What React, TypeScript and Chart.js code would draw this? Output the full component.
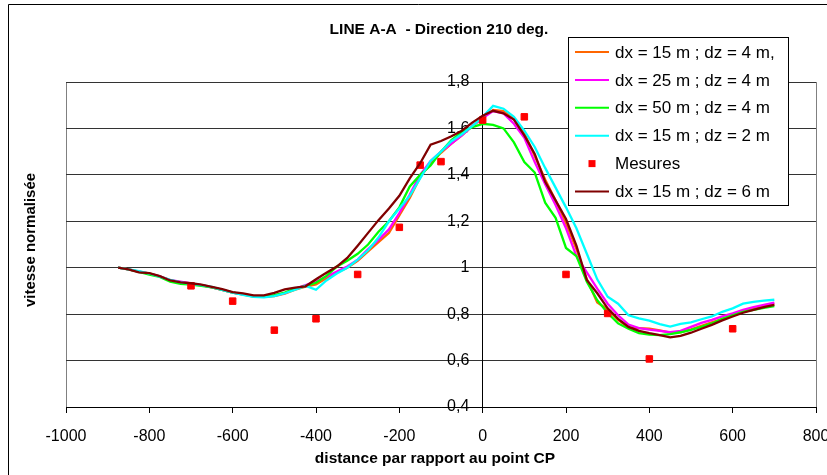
import React, { useEffect, useRef } from 'react';
import { Chart, registerables } from 'chart.js';

Chart.register(...registerables);

const FONT = '"Liberation Sans", Arial, Helvetica, sans-serif';

const chartTitle = 'LINE A-A  - Direction 210 deg.';
const xAxisTitle = 'distance par rapport au point CP';
const yAxisTitle = 'vitesse normalisée';

const distances = [
  -875, -850, -825, -800, -775, -750, -725, -700, -675, -650, -625, -600, -575, -550, -525, -500,
  -475, -450, -425, -400, -375, -350, -325, -300, -275, -250, -225, -200, -175, -150, -125, -100,
  -75, -50, -25, 0, 25, 50, 75, 100, 125, 150, 175, 200, 225, 250, 275, 300, 325, 350, 375, 400,
  425, 450, 475, 500, 525, 550, 575, 600, 625, 650, 675, 700,
];

const dx15dz4 = [
  1.0, 0.993, 0.983, 0.976, 0.963, 0.947, 0.938, 0.932, 0.925, 0.915, 0.905, 0.893, 0.884, 0.876, 0.874, 0.878,
  0.888, 0.905, 0.918, 0.928, 0.955, 0.98, 1.0, 1.03, 1.07, 1.11, 1.15, 1.225, 1.3, 1.39, 1.45, 1.495,
  1.535, 1.57, 1.61, 1.645, 1.68, 1.675, 1.64, 1.58, 1.48, 1.38, 1.29, 1.19, 1.08, 0.95, 0.85, 0.82,
  0.775, 0.742, 0.74, 0.738, 0.73, 0.72, 0.722, 0.735, 0.75, 0.765, 0.78, 0.795, 0.81, 0.825, 0.835, 0.845,
];

const dx25dz4 = [
  1.0, 0.993, 0.983, 0.975, 0.963, 0.947, 0.94, 0.933, 0.925, 0.915, 0.905, 0.893, 0.885, 0.878, 0.875, 0.88,
  0.89, 0.91, 0.925, 0.94, 0.962, 0.983, 1.005, 1.035, 1.08, 1.12, 1.165, 1.235, 1.315, 1.4, 1.46, 1.5,
  1.535, 1.57, 1.61, 1.645, 1.675, 1.665, 1.62, 1.56, 1.455, 1.36, 1.27, 1.17, 1.05, 0.98, 0.91, 0.845,
  0.795, 0.755, 0.74, 0.733, 0.728, 0.722, 0.728, 0.745, 0.762, 0.775, 0.79, 0.803, 0.818, 0.83, 0.84, 0.85,
];

const dx50dz4 = [
  1.0, 0.993, 0.982, 0.97, 0.96, 0.94, 0.93, 0.927, 0.922, 0.915, 0.905, 0.893, 0.886, 0.879, 0.877, 0.882,
  0.893, 0.91, 0.922, 0.935, 0.965, 1.005, 1.03, 1.06, 1.1, 1.155, 1.2, 1.26, 1.35, 1.4, 1.44, 1.5,
  1.55, 1.585, 1.605, 1.62, 1.615, 1.6, 1.54, 1.455, 1.41, 1.28, 1.215, 1.085, 1.05, 0.94, 0.86, 0.805,
  0.76, 0.737, 0.718, 0.712, 0.71, 0.714, 0.722, 0.732, 0.745, 0.76, 0.78, 0.795, 0.81, 0.818, 0.827, 0.835,
];

const dx15dz2 = [
  1.0, 0.993, 0.985, 0.975, 0.962, 0.948, 0.937, 0.93, 0.925, 0.917, 0.905, 0.893, 0.883, 0.874, 0.872, 0.878,
  0.89, 0.905, 0.922, 0.905, 0.945, 0.975, 1.0, 1.035, 1.075, 1.13, 1.2, 1.255, 1.31, 1.385, 1.46, 1.5,
  1.545, 1.575, 1.61, 1.65, 1.697, 1.685, 1.65, 1.59, 1.52, 1.43, 1.345, 1.26, 1.17, 1.06, 0.95, 0.875,
  0.845, 0.795, 0.782, 0.772, 0.757, 0.746, 0.758, 0.765, 0.778, 0.79, 0.81, 0.825, 0.845, 0.853, 0.858, 0.862,
];

const dx15dz6 = [
  1.0, 0.993, 0.98, 0.977, 0.964, 0.945, 0.937, 0.933, 0.927, 0.917, 0.908, 0.895, 0.889, 0.881, 0.881, 0.892,
  0.907, 0.914, 0.92, 0.95, 0.978, 1.005, 1.042, 1.095, 1.15, 1.205, 1.255, 1.31, 1.385, 1.45, 1.53, 1.546,
  1.566, 1.59, 1.625, 1.655, 1.676, 1.665, 1.638, 1.57, 1.49, 1.37, 1.29, 1.21, 1.095, 0.947, 0.89, 0.825,
  0.78, 0.745, 0.728, 0.718, 0.71, 0.7, 0.706, 0.72, 0.737, 0.754, 0.773, 0.79, 0.806, 0.818, 0.83, 0.84,
];

const mesuresX = [-700, -600, -500, -400, -300, -200, -150, -100, 0, 100, 200, 300, 400, 600];
const mesuresY = [0.922, 0.856, 0.731, 0.78, 0.971, 1.174, 1.442, 1.457, 1.636, 1.65, 0.971, 0.803, 0.607, 0.737];

const seriesLabels = [
  'dx = 15 m ; dz = 4 m,',
  'dx = 25 m ; dz = 4 m',
  'dx = 50 m ; dz = 4 m',
  'dx = 15 m ; dz = 2 m',
  'Mesures',
  'dx = 15 m ; dz = 6 m',
];
const seriesColors = ['#FF6600', '#FF00FF', '#00FF00', '#00FFFF', '#FF0000', '#800000'];

const fmt = (v: number) => String(Math.round(v * 10) / 10).replace('.', ',');

const decorPlugin = {
  id: 'decor',
  beforeDraw(chart: any) {
    const { ctx, chartArea: a } = chart;
    ctx.save();
    ctx.strokeStyle = '#808080';
    ctx.lineWidth = 1;
    ctx.strokeRect(Math.round(a.left) + 0.5, Math.round(a.top) + 0.5, Math.round(a.right - a.left), Math.round(a.bottom - a.top));
    ctx.restore();
  },
  afterDraw(chart: any) {
    const { ctx } = chart;
    ctx.save();
    ctx.strokeStyle = '#000';
    ctx.lineWidth = 1;
    ctx.beginPath();
    ctx.moveTo(8.5, 480);
    ctx.lineTo(8.5, 4.5);
    ctx.lineTo(830, 4.5);
    ctx.stroke();

    ctx.fillStyle = '#000';
    ctx.textAlign = 'center';
    ctx.textBaseline = 'middle';
    ctx.font = `bold 15.5px ${FONT}`;
    ctx.fillText(chartTitle, 439, 30);
    ctx.fillText(xAxisTitle, 435, 459);
    ctx.save();
    ctx.translate(31, 240);
    ctx.rotate(-Math.PI / 2);
    ctx.font = `bold 15px ${FONT}`;
    ctx.fillText(yAxisTitle, 0, 0);
    ctx.restore();

    const lx = 568, ly = 37, lw = 220, lh = 168;
    ctx.fillStyle = '#fff';
    ctx.fillRect(lx, ly, lw, lh);
    ctx.strokeStyle = '#000';
    ctx.strokeRect(lx + 0.5, ly + 0.5, lw, lh);
    ctx.font = `17px ${FONT}`;
    ctx.textAlign = 'left';
    chart.data.datasets.forEach((ds: any, i: number) => {
      const y = 52 + i * 27.9;
      if (ds.showLine === false) {
        ctx.fillStyle = ds.backgroundColor;
        ctx.fillRect(588.5, y - 3.5, 7, 7);
      } else {
        ctx.strokeStyle = ds.borderColor;
        ctx.lineWidth = 2;
        ctx.beginPath();
        ctx.moveTo(575, y);
        ctx.lineTo(609, y);
        ctx.stroke();
      }
      ctx.fillStyle = '#000';
      ctx.fillText(ds.label, 615, y + 1);
    });
    ctx.restore();
  },
};

export default function App() {
  const ref = useRef<HTMLCanvasElement>(null);
  useEffect(() => {
    const canvas = ref.current;
    if (!canvas) return;
    const lineSets = [dx15dz4, dx25dz4, dx50dz4, dx15dz2, null, dx15dz6];
    const datasets = seriesLabels.map((label, i) => {
      const color = seriesColors[i];
      const order = seriesLabels.length - i;
      const vals = lineSets[i];
      if (!vals) {
        return {
          label,
          data: mesuresX.map((x, k) => ({ x, y: mesuresY[k] })),
          showLine: false,
          backgroundColor: color,
          borderColor: color,
          pointStyle: 'rect',
          pointRadius: 4.6,
          pointBorderWidth: 1,
          order,
        };
      }
      return {
        label,
        data: distances.map((x, k) => ({ x, y: vals[k] })),
        showLine: true,
        borderColor: color,
        backgroundColor: color,
        borderWidth: 2.3,
        pointRadius: 0,
        tension: 0,
        fill: false,
        order,
      };
    });
    const chart = new Chart(canvas, {
      type: 'scatter',
      data: { datasets } as any,
      options: {
        animation: false,
        responsive: false,
        devicePixelRatio: 1,
        layout: { padding: { left: 66, right: 11, top: 82, bottom: 0 } },
        plugins: { legend: { display: false }, title: { display: false }, tooltip: { enabled: false } },
        scales: {
          x: {
            type: 'linear',
            min: -1000,
            max: 800,
            afterFit: (s: any) => { s.height = 68; s.paddingLeft = 0; s.paddingRight = 0; },
            ticks: {
              stepSize: 200,
              color: '#000',
              font: { family: FONT, size: 16 },
              padding: 14,
              maxRotation: 0,
              callback: (v: any) => String(Math.round(Number(v))),
            },
            grid: { drawOnChartArea: false, drawTicks: true, tickLength: 6, color: '#000' },
            border: { display: true, color: '#000', width: 1 },
          },
          y: {
            type: 'linear',
            min: 0.4,
            max: 1.8,
            position: { x: 0 } as any,
            ticks: {
              stepSize: 0.2,
              color: '#000',
              font: { family: FONT, size: 16 },
              padding: 0,
              callback: (v: any) => fmt(Number(v)) + '\u00A0\u00A0\u00A0',
            },
            grid: { drawOnChartArea: true, drawTicks: true, tickLength: 8, color: '#333' },
            border: { display: true, color: '#000', width: 1 },
          },
        },
      } as any,
      plugins: [decorPlugin],
    });
    return () => chart.destroy();
  }, []);
  return (
    <div style={{ position: 'absolute', left: 0, top: 0, width: 827, height: 475, background: '#fff' }}>
      <canvas ref={ref} width={827} height={475} style={{ display: 'block' }} />
    </div>
  );
}
